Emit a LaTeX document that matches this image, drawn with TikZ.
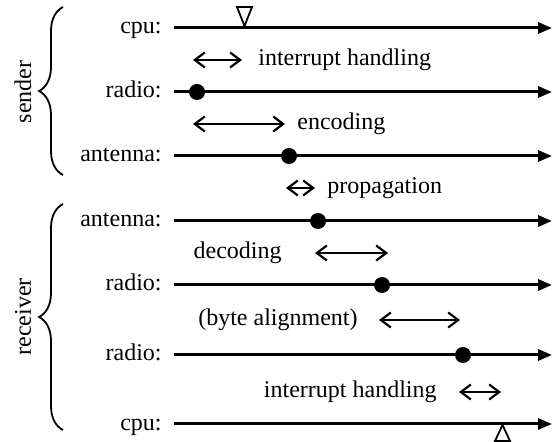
\documentclass[tikz,border=0pt]{standalone}
\usepackage{fontspec}
\setmainfont{Liberation Serif}
\usetikzlibrary{arrows.meta,decorations.pathreplacing}

\tikzset{
  lbl/.style={anchor=base east, inner sep=0pt, font=\fontsize{12}{14}\selectfont},
  txt/.style={inner sep=0pt, font=\fontsize{12}{14}\selectfont},
  timeline/.style={->, line width=1.5pt},
  span/.style={{Straight Barb[length=5pt,width=7.5pt]}-{Straight Barb[length=5pt,width=7.5pt]}, line width=1.1pt},
  dot/.style={circle, fill, inner sep=0pt, minimum size=8pt},
  irq/.style={line width=0.9pt, line join=miter},
  brc/.style={decorate, decoration={brace, amplitude=12pt}, line width=0.9pt}
}

\begin{document}
\begin{tikzpicture}[x=0.5pt,y=-0.5pt,>={Triangle[length=7pt,width=5.5pt]}]
\useasboundingbox (0,0) rectangle (556,442);

% sender
\coordinate (cpuSa) at (174,28);  \coordinate (cpuSb) at (552,28);
\coordinate (radSa) at (174,92);  \coordinate (radSb) at (552,92);
\coordinate (antSa) at (174,156); \coordinate (antSb) at (552,156);
\node[lbl] (cpuS) at (162,34) {cpu:};
\node[lbl] (radS) at (162,98) {radio:};
\node[lbl] (antS) at (162,162) {antenna:};
\draw[timeline] (cpuSa) -- (cpuSb);
\draw[timeline] (radSa) -- (radSb);
\draw[timeline] (antSa) -- (antSb);
\draw[irq] (237,7) -- (252,7) -- (244.5,26) -- cycle;
\node[dot] (radSd) at (197,92) {};
\node[dot] (antSd) at (289,156) {};

% receiver
\coordinate (antRa) at (174,221); \coordinate (antRb) at (552,221);
\coordinate (radRa) at (174,285); \coordinate (radRb) at (552,285);
\coordinate (bytRa) at (174,355); \coordinate (bytRb) at (552,355);
\coordinate (cpuRa) at (174,424); \coordinate (cpuRb) at (552,424);
\node[lbl] (antR) at (162,227) {antenna:};
\node[lbl] (radR) at (162,291) {radio:};
\node[lbl] (bytR) at (162,361) {radio:};
\node[lbl] (cpuR) at (162,430) {cpu:};
\draw[timeline] (antRa) -- (antRb);
\draw[timeline] (radRa) -- (radRb);
\draw[timeline] (bytRa) -- (bytRb);
\draw[timeline] (cpuRa) -- (cpuRb);
\node[dot] (antRd) at (318,221) {};
\node[dot] (radRd) at (382,285) {};
\node[dot] (bytRd) at (463,355) {};
\draw[irq] (495,441) -- (510,441) -- (502.5,425) -- cycle;

% durations
\coordinate (irqSa) at (193,60);  \coordinate (irqSb) at (242,60);
\coordinate (encA) at (193,124);  \coordinate (encB) at (285,124);
\coordinate (proA) at (286,188);  \coordinate (proB) at (315,188);
\coordinate (decA) at (315,253);  \coordinate (decB) at (388,253);
\coordinate (alnA) at (379,320);  \coordinate (alnB) at (460,320);
\coordinate (irqRa) at (459,392); \coordinate (irqRb) at (501,392);
\draw[span] (irqSa) -- (irqSb);
\draw[span] (encA) -- (encB);
\draw[span] (proA) -- (proB);
\draw[span] (decA) -- (decB);
\draw[span] (alnA) -- (alnB);
\draw[span] (irqRa) -- (irqRb);
\node[txt, anchor=base west] (irqSt) at (258,65.5) {interrupt handling};
\node[txt, anchor=base west] (encT) at (297,129.5) {encoding};
\node[txt, anchor=base west] (proT) at (327,193.5) {propagation};
\node[txt, anchor=base east] (decT) at (282,258.5) {decoding};
\node[txt, anchor=base east] (alnT) at (358,325.5) {(byte alignment)};
\node[txt, anchor=base east] (irqRt) at (437,397.5) {interrupt handling};

% braces
\draw[brc] (63,175) -- (63,7);
\draw[brc] (63,430) -- (63,204);
\node[txt, rotate=90] (snd) at (23,92) {sender};
\node[txt, rotate=90] (rcv) at (23,317) {receiver};
\end{tikzpicture}
\end{document}
